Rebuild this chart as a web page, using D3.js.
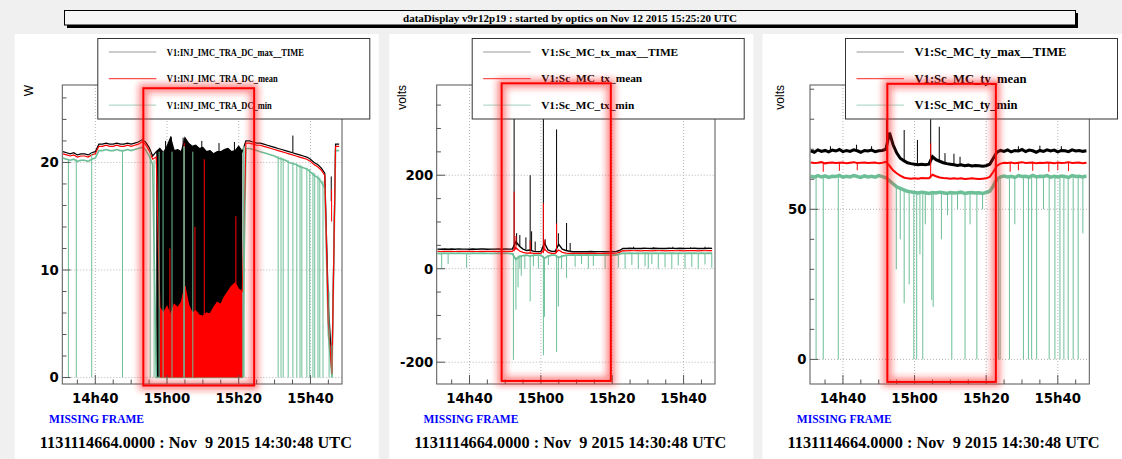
<!DOCTYPE html>
<meta charset="utf-8">
<style>
body { margin: 0; background: #f0f0f0; }
svg { display: block; }
.panel { fill: #fff; }
.frame { fill: none; stroke: #555; }
.tick { stroke: #555; }
.grid { stroke: #b5b5b5; stroke-dasharray: 1,2; }
.tick-label { font: bold 13.3px "DejaVu Sans", sans-serif; fill: #000; }
.axis-title { font: 12px "Liberation Sans", Arial, sans-serif; fill: #000; }
.legend-box { fill: #fff; stroke: #333; }
.legend-text { font-family: "Liberation Serif", serif; font-weight: bold; fill: #000; }
.missing { font: bold 11.5px "Liberation Serif", serif; fill: #0000ff; }
.stamp { font: bold 16.3px "Liberation Serif", serif; fill: #000; white-space: pre; }
.title-text { font: bold 10px "Liberation Serif", serif; fill: #000; }
.max { stroke: #000; fill: none; }
.mean { stroke: #ff0000; fill: none; }
.min { stroke: #6dbf98; fill: none; }
</style>
<body>
<svg class="js-chart"></svg>
<script src="https://cdn.jsdelivr.net/npm/d3@7"></script>
<script>
"use strict";

// ---- data (minute samples after 14:31 UTC, Nov 9 2015) ----
var sampleMinutes = d3.range(78);

var p1Names = ["V1:INJ_IMC_TRA_DC_max__TIME", "V1:INJ_IMC_TRA_DC_mean", "V1:INJ_IMC_TRA_DC_min"];
var p1Max = [21.0, 20.9, 20.8, 20.9, 20.7, 20.8, 20.8, 20.7, 20.9, 21.0,
    21.7, 21.7, 21.8, 21.7, 21.7, 21.8, 21.7, 21.7, 21.8, 21.7, 21.8, 21.9, 22.1, 21.9,
    21.4, 20.6,
    21.0, 21.3, 20.9, 21.5, 22.3, 21.1, 21.2, 21.0, 22.3, 21.8, 21.5, 21.6, 21.3, 21.4,
    21.0, 21.1, 20.8, 21.0, 21.0, 21.2, 21.3, 21.0, 21.1, 21.5, 21.0,
    22.0, 22.0, 21.9, 21.8, 21.8, 21.7, 21.6, 21.5, 21.4, 21.3, 21.2, 21.1, 21.0, 20.9,
    20.8, 20.7, 20.6, 20.5, 20.3, 20.0, 19.8, 19.5, 19.0,
    6.8, 1.0, 21.7, 21.7];
var p1Mean = [20.8, 20.7, 20.6, 20.7, 20.5, 20.6, 20.6, 20.5, 20.7, 20.8,
    21.5, 21.5, 21.6, 21.5, 21.5, 21.6, 21.5, 21.5, 21.6, 21.5, 21.6, 21.7, 21.9, 21.7,
    21.1, 20.3, 20.5,
    6.5, 6.0, 6.6, 5.8, 6.8, 6.5, 7.0, 8.5, 6.8, 6.0, 6.2, 5.8, 5.7, 6.0, 5.9, 6.5,
    7.0, 6.8, 7.5, 8.0, 8.5, 8.8, 8.2, 8.0,
    21.8, 21.8, 21.7, 21.6, 21.6, 21.5, 21.4, 21.3, 21.2, 21.1, 21.0, 20.9, 20.8, 20.7,
    20.6, 20.5, 20.4, 20.3, 20.1, 19.8, 19.6, 19.3, 18.8,
    5.0, 0.3, 21.5, 21.5];
var p1Min = [20.4, 20.3, 20.2, 20.3, 20.1, 20.2, 20.2, 20.1, 20.3, 20.4,
    21.1, 21.1, 21.2, 21.1, 21.1, 21.2, 21.1, 21.1, 21.2, 21.1, 21.2, 21.3, 21.4, 21.2,
    20.6, 19.8,
    0, 0, 0, 0, 0, 0, 0, 0, 0, 0, 0, 0, 0, 0, 0, 0, 0, 0, 0, 0, 0, 0, 0, 0, 0,
    21.3, 21.3, 21.2, 21.1, 21.0, 20.9, 20.8, 20.7, 20.6, 20.4, 20.3, 20.2, 20.0, 19.9,
    19.8, 19.6, 19.5, 19.4, 19.1, 18.8, 18.6, 18.2, 17.6,
    4.0, 0, 21.1, 21.1];
var p1Burst = [26, 50];       // minutes where max fills down to 0
var p1MeanBurst = [27, 50];   // minutes where mean fills down to 0
var p1MaxSpikes = [[22.4, 21.9, 22.6], [28.6, 21, 22.0], [30.2, 21, 22.4], [33.5, 21, 22.3],
    [38.7, 21, 22.0], [43.5, 21, 21.8], [47.8, 21, 21.9], [64.1, 20.9, 22.5], [74.8, 16.4, 18.7]];
var p1MeanSpikes = [[29.8, 0, 12.0], [33.8, 0, 21.8], [36.8, 0, 14.0], [39.4, 0, 20.3],
    [48.2, 0, 15.0], [74.9, 14.5, 17.5]];
var p1MinDrops = [[1.5, 20.3, 0], [3.7, 20.3, 0], [8.0, 20.9, 0], [16.6, 21.1, 0],
    [24.3, 21.0, 0], [25.4, 20.2, 0], [26.8, 21.0, 0], [27.9, 0, 21.0], [30.4, 0, 21.0],
    [33.7, 0, 21.5], [33.8, 0, 21.5], [36.2, 0, 21.0], [50.3, 21.5, 0], [50.5, 21.5, 0],
    [60.0, 20.6, 0], [60.8, 20.5, 0], [61.4, 20.4, 0], [62.8, 20.2, 0], [64.1, 20.0, 0],
    [65.2, 19.9, 0], [66.1, 19.8, 0], [66.6, 19.7, 0], [68.0, 19.5, 0], [68.8, 19.4, 0],
    [69.7, 19.1, 0], [70.2, 19.0, 0], [71.1, 18.8, 0], [71.6, 18.6, 0], [72.5, 18.3, 0],
    [74.2, 8.0, 0], [75.0, 3.0, 0]];

var p2Names = ["V1:Sc_MC_tx_max__TIME", "V1:Sc_MC_tx_mean", "V1:Sc_MC_tx_min"];
var p2Max = [42.0, 41.6, 42.3, 41.8, 42.1, 41.7, 42.4, 41.9, 42.0, 41.6, 42.2, 41.8, 42.1,
    42.3, 41.7, 42.0, 41.9, 42.2, 41.8, 42.1, 42.0,
    42.0, 58.0, 48.0, 42.0, 39.0, 40.0, 37.0, 36.5, 36.5, 55.0, 40.0, 37.0, 37.0, 52.0,
    42.0, 39.0, 37.5,
    36.4, 36.6, 36.3, 36.5, 36.4, 36.7, 36.3, 36.5, 36.6, 36.4, 36.5, 36.3, 36.6,
    39.0,
    43.5, 43.2, 43.8, 43.4, 43.6, 43.1, 43.7, 43.5, 43.3, 43.9, 43.4, 43.6, 43.2, 43.8,
    43.5, 43.4, 43.7, 43.3, 43.6, 43.5, 43.8, 43.2, 43.6, 43.4, 43.7, 43.5];
var p2Mean = [37.0, 36.8, 37.2, 36.9, 37.1, 36.8, 37.2, 37.0, 36.9, 37.1, 37.0, 36.8, 37.2,
    37.0, 36.9, 37.1, 37.0, 36.8, 37.1, 37.0, 36.9,
    37.0, 45.0, 38.0, 35.0, 33.5, 34.0, 33.0, 32.8, 32.8, 42.0, 35.0, 33.0, 33.0, 40.0,
    35.0, 33.5, 33.0,
    33.0, 32.8, 33.1, 32.9, 33.0, 33.2, 32.8, 33.0, 33.1, 32.9, 33.0, 32.8, 33.1,
    35.0,
    38.5, 38.3, 38.7, 38.4, 38.6, 38.2, 38.7, 38.5, 38.3, 38.8, 38.4, 38.6, 38.3, 38.7,
    38.5, 38.4, 38.6, 38.3, 38.6, 38.5, 38.7, 38.3, 38.6, 38.4, 38.6, 38.5];
var p2Min = [33.0, 32.6, 33.3, 32.8, 33.1, 32.7, 33.2, 32.9, 33.0, 32.6, 33.2, 32.8, 33.1,
    33.3, 32.7, 33.0, 32.9, 33.2, 32.8, 33.1, 33.0,
    32.0, 20.0, 26.0, 28.0, 29.0, 27.0, 29.0, 29.2, 29.0, 22.0, 27.0, 29.0, 29.0, 24.0,
    27.0, 28.5, 29.0,
    29.3, 29.0, 29.4, 29.1, 29.3, 29.0, 29.4, 29.2, 29.1, 29.3, 29.0, 29.2, 29.3,
    31.0,
    33.2, 32.9, 33.4, 33.0, 33.3, 32.8, 33.2, 33.1, 32.9, 33.4, 33.0, 33.2, 32.9, 33.3,
    33.1, 33.0, 33.3, 32.9, 33.2, 33.1, 33.3, 32.9, 33.2, 33.0, 33.3, 33.1];
var p2MaxSpikes = [[21.5, 42, 390], [22.2, 50, 76], [23.1, 48, 72], [24.8, 42, 67],
    [26.0, 38, 200], [26.4, 38, 80], [27.4, 37, 58], [29.7, 37, 390], [30.2, 50, 63],
    [33.4, 37, 298], [33.9, 50, 76], [36.2, 39, 98], [37.2, 37, 55],
    [55.0, 43.5, 47], [60.5, 43.5, 46], [66.0, 43.5, 47], [71.0, 43.5, 46], [75.0, 43.5, 47]];
var p2MeanSpikes = [[21.5, 37, 165], [22.0, 40, 70], [26.0, 33, 60], [29.7, 33, 140],
    [30.1, 38, 62], [33.4, 33, 97]];
var p2MinDrops = [[21.3, 33, -195], [22.0, 25, -88], [22.6, 28, -40], [23.5, 28, -15],
    [24.5, 28, 0], [26.0, 28, -70], [29.7, 28, -185], [30.0, 25, -103], [33.4, 28, -178],
    [33.9, 25, -81], [36.2, 28, -20],
    [1.2, 33, 0], [3.0, 33, 10], [8.2, 33, 2], [23.1, 29, 0], [26.9, 29, 5], [28.3, 29, 0],
    [31.1, 29, 8], [34.8, 29, 0], [38.6, 29, 4], [40.4, 29, 10], [42.3, 29, 0], [43.7, 29, 6],
    [47.0, 29, 0], [50.7, 30, 2], [52.6, 33, 0], [54.5, 33, 8], [56.3, 33, 0], [58.2, 33, 5],
    [59.1, 33, 0], [60.1, 33, 10], [61.9, 33, 0], [63.8, 33, 3], [65.7, 33, 0], [67.5, 33, 7],
    [69.4, 33, 0], [71.3, 33, 4], [73.1, 33, 0], [75.0, 33, 9], [76.9, 33, 2]];

var p3Names = ["V1:Sc_MC_ty_max__TIME", "V1:Sc_MC_ty_mean", "V1:Sc_MC_ty_min"];
var p3Max = [69.5, 69.0, 69.8, 69.3, 69.6, 69.1, 69.7, 69.4, 69.9, 69.2, 69.6, 69.3, 69.8,
    69.5, 69.0, 69.6, 69.4, 69.7, 69.2, 69.5, 69.6,
    70.0, 75.5, 71.5, 68.8, 67.0, 66.2, 65.5, 65.2, 65.0, 64.8, 65.0, 64.8, 65.0, 67.5,
    66.5, 66.0, 65.5, 65.2, 65.0, 64.8, 64.6, 64.8, 64.5, 64.7, 64.4, 64.6, 64.5, 64.3,
    64.5, 65.0, 67.0, 69.0, 69.6,
    69.3, 69.8, 69.1, 69.6, 69.4, 69.9, 69.2, 69.7, 69.5, 69.0, 69.6, 69.3, 69.8, 69.4,
    69.7, 69.1, 69.6, 69.5, 69.2, 69.8, 69.4, 69.6, 69.3, 69.5];
var p3Mean = [65.6, 65.4, 65.5, 65.7, 65.3, 65.5, 65.6, 65.4, 65.5, 65.6, 65.3, 65.5, 65.7,
    65.4, 65.5, 65.6, 65.4, 65.5, 65.6, 65.3, 65.5,
    65.8, 64.5, 63.0, 62.0, 61.2, 60.6, 60.3, 60.2, 60.3, 60.2, 60.4, 60.3, 60.3, 61.5,
    61.0, 60.6, 60.4, 60.3, 60.2, 60.3, 60.2, 60.3, 60.1, 60.2, 60.3, 60.2, 60.1, 60.2,
    60.3, 60.8, 62.5, 64.5, 65.2,
    65.5, 65.4, 65.6, 65.3, 65.5, 65.7, 65.4, 65.5, 65.6, 65.3, 65.5, 65.4, 65.6, 65.5,
    65.3, 65.6, 65.4, 65.5, 65.7, 65.4, 65.5, 65.6, 65.3, 65.5];
var p3Min = [61.0, 60.7, 61.2, 60.8, 61.1, 60.6, 61.0, 60.9, 61.3, 60.7, 61.0, 60.8, 61.2,
    60.9, 60.6, 61.1, 60.8, 61.0, 60.7, 61.2, 60.9,
    60.5, 59.5, 58.5, 57.5, 57.0, 56.5, 56.0, 55.8, 55.6, 55.4, 55.7, 55.5, 55.3, 55.6,
    55.4, 55.7, 55.5, 55.3, 55.6, 55.4, 55.5, 55.7, 55.3, 55.5, 55.6, 55.4, 55.5, 55.3,
    55.6, 56.0, 57.8, 60.0, 60.8,
    61.1, 60.8, 61.0, 60.6, 61.2, 60.9, 61.0, 60.7, 61.3, 60.8, 61.0, 60.9, 61.2, 60.7,
    61.0, 60.8, 61.1, 60.9, 60.6, 61.2, 60.9, 61.0, 60.8, 61.1];
var p3MaxSpikes = [[21.2, 70, 79.8], [26.1, 66, 76.4], [29.8, 65, 73.1], [33.5, 65, 80],
    [35.9, 66, 77.5], [37.5, 65, 68.7], [40.0, 65, 68.5], [41.7, 65, 67.5],
    [5.5, 69.5, 71], [12.8, 69.5, 71.5], [17.0, 69.5, 71], [58.0, 69.5, 71],
    [64.0, 69.5, 71.2], [70.0, 69.5, 71]];
var p3MeanSpikes = [[33.5, 60.3, 72], [21.3, 65.5, 70], [3.5, 65.5, 62.5], [8.0, 65.5, 62.8],
    [13.0, 65.5, 63], [55.7, 65.5, 62.5], [58.0, 65.5, 63], [62.0, 65.5, 62.8],
    [66.5, 65.5, 62.5], [69.0, 65.5, 63], [72.0, 65.5, 62.7]];
var p3MinDrops = [[1.5, 61, 0], [3.5, 61, 0], [7.7, 61, 0], [26.1, 56.5, 18.7], [28.8, 55.8, 0],
    [29.6, 55.5, 0], [31.3, 55.5, 0], [33.8, 55.5, 19.8], [34.2, 55.5, 17.5], [39.4, 55.5, 0],
    [43.1, 55.5, 0], [46.4, 55.5, 0], [52.4, 60, 0], [52.9, 60.8, 0], [55.5, 61, 0],
    [59.4, 61, 0], [60.8, 61, 0], [61.7, 61, 0], [63.1, 61, 0], [66.6, 61, 0], [68.2, 61, 0],
    [69.6, 61, 0], [70.7, 61, 0], [71.9, 61, 0], [73.3, 61, 0], [74.7, 61, 0],
    [23.9, 58, 30], [25.0, 57, 40], [27.5, 56, 25], [30.5, 55.5, 35], [32.0, 55.5, 45],
    [36.5, 55.5, 40], [38.2, 55.5, 48], [41.0, 55.5, 50], [44.5, 55.5, 45], [48.0, 55.5, 50],
    [57.0, 61, 45], [65.0, 61, 50], [76.0, 61, 42]];

// highlighted windows: [from minute, to minute, low value, high value]
var p1Highlight = [22.4, 53.3, -0.74, 26.9];
var p2Highlight = [18.0, 48.6, -240, 396.6];
var p3Highlight = [21.4, 51.7, -7.5, 91.8];

var titleText = "dataDisplay v9r12p19 : started by optics on Nov 12 2015 15:25:20 UTC";
var stampText = "1131114664.0000 : Nov  9 2015 14:30:48 UTC";
var missingText = "MISSING FRAME";

// ---- layout ----
var width = 1122, height = 459,
    frameTop = 85, frameBottom = 384,
    startTime = new Date(Date.UTC(2015, 10, 9, 14, 30, 48)),
    endTime = new Date(Date.UTC(2015, 10, 9, 15, 48, 48)),
    firstSample = Date.UTC(2015, 10, 9, 14, 31, 0);

function sampleTime(m) { return new Date(firstSample + m * 60000); }

var panels = [
    { left: 62.3, right: 342, yDomain: [-0.6, 27.2], major: 10, minor: 2, unit: "W", titleDx: -29,
      names: p1Names, max: p1Max, mean: p1Mean, min: p1Min, burst: p1Burst, meanBurst: p1MeanBurst,
      maxSpikes: p1MaxSpikes, meanSpikes: p1MeanSpikes, minDrops: p1MinDrops, highlight: p1Highlight,
      legendFont: 11, legendWidths: [137, 111, 105], widths: [1.2, 1.2, 1.6] },
    { left: 436.7, right: 715, yDomain: [-246.6, 393], major: 200, minor: 50, unit: "volts", titleDx: -31,
      names: p2Names, max: p2Max, mean: p2Mean, min: p2Min,
      maxSpikes: p2MaxSpikes, meanSpikes: p2MeanSpikes, minDrops: p2MinDrops, highlight: p2Highlight,
      legendFont: 11, legendWidths: [137, 101, 93], widths: [1.4, 1.2, 1.8] },
    { left: 810, right: 1089.3, yDomain: [-8.2, 91.4], major: 50, minor: 10, unit: "volts", titleDx: -26.5,
      names: p3Names, max: p3Max, mean: p3Mean, min: p3Min,
      maxSpikes: p3MaxSpikes, meanSpikes: p3MeanSpikes, minDrops: p3MinDrops, highlight: p3Highlight,
      legendFont: 12.5, legendWidths: [152, 112, 103], widths: [3, 2, 3.5] }
];

var svg = d3.select(".js-chart")
    .attr("width", width)
    .attr("height", height);

var defs = svg.append("defs");
defs.append("filter")
    .attr("id", "glow")
    .attr("x", "-20%").attr("y", "-20%").attr("width", "140%").attr("height", "140%")
    .append("feGaussianBlur")
    .attr("stdDeviation", 3.2);

// title bar
svg.append("rect").attr("x", 67).attr("y", 13).attr("width", 1011).attr("height", 15).attr("fill", "#000");
svg.append("rect").attr("x", 64.5).attr("y", 10.5).attr("width", 1011).attr("height", 14.5)
    .attr("fill", "#f6f6f6").attr("stroke", "#000");
svg.append("text").attr("class", "title-text")
    .attr("x", 570).attr("y", 21.5)
    .attr("text-anchor", "middle")
    .attr("textLength", 334).attr("lengthAdjust", "spacingAndGlyphs")
    .text(titleText);

panels.forEach(function(p, pi) {
    var x = d3.scaleUtc().domain([startTime, endTime]).range([p.left, p.right]);
    var y = d3.scaleLinear().domain(p.yDomain).range([frameBottom, frameTop]);
    var g = svg.append("g");

    g.append("rect").attr("class", "panel")
        .attr("x", p.left - 47.5).attr("y", 34)
        .attr("width", 364).attr("height", height - 34);

    var clipId = "clip" + pi;
    defs.append("clipPath").attr("id", clipId)
        .append("rect")
        .attr("x", p.left).attr("y", frameTop)
        .attr("width", p.right - p.left).attr("height", frameBottom - frameTop);

    // grid
    var majorTimes = x.ticks(d3.utcMinute.every(20));
    var minorTimes = x.ticks(d3.utcMinute.every(5));
    var majorVals = d3.range(Math.ceil(p.yDomain[0] / p.major) * p.major, p.yDomain[1], p.major);
    var minorVals = d3.range(Math.ceil(p.yDomain[0] / p.minor) * p.minor, p.yDomain[1], p.minor);

    g.selectAll(".gx").data(majorTimes).join("line")
        .attr("class", "grid")
        .attr("x1", x).attr("x2", x)
        .attr("y1", frameTop).attr("y2", frameBottom);
    g.selectAll(".gy").data(majorVals).join("line")
        .attr("class", "grid")
        .attr("x1", p.left).attr("x2", p.right)
        .attr("y1", y).attr("y2", y);

    var plot = g.append("g").attr("clip-path", "url(#" + clipId + ")");

    function pts(values) {
        return sampleMinutes.map(function(m, i) { return [m, values[i]]; });
    }
    var line = d3.line()
        .defined(function(d) { return d[1] != null; })
        .x(function(d) { return x(sampleTime(d[0])); })
        .y(function(d) { return y(d[1]); });
    var area = d3.area()
        .x(function(d) { return x(sampleTime(d[0])); })
        .y0(y(0))
        .y1(function(d) { return y(d[1]); });

    function spikes(list, cls, w) {
        plot.append("g").selectAll("line").data(list).join("line")
            .attr("class", cls)
            .attr("stroke-width", w)
            .attr("x1", function(d) { return x(sampleTime(d[0])); })
            .attr("x2", function(d) { return x(sampleTime(d[0])); })
            .attr("y1", function(d) { return y(d[1]); })
            .attr("y2", function(d) { return y(d[2]); });
    }
    function inRange(r) {
        return function(d) { return d[0] >= r[0] && d[0] <= r[1]; };
    }

    // max
    if (p.burst) {
        plot.append("path").datum(pts(p.max).filter(inRange(p.burst)))
            .attr("fill", "#000").attr("d", area);
    }
    plot.append("path").datum(pts(p.max)).attr("class", "max")
        .attr("stroke-width", p.widths[0]).attr("d", line);
    spikes(p.maxSpikes, "max", 1);

    // min (under the mean)
    plot.append("path").datum(pts(p.min)).attr("class", "min")
        .attr("stroke-width", p.widths[2]).attr("d", line);

    // mean
    if (p.meanBurst) {
        plot.append("path").datum(pts(p.mean).filter(inRange(p.meanBurst)))
            .attr("fill", "#ff0000").attr("d", area);
    }
    plot.append("path").datum(pts(p.mean)).attr("class", "mean")
        .attr("stroke-width", p.widths[1]).attr("d", line);
    spikes(p.meanSpikes, "mean", 1);

    // min excursions on top
    spikes(p.minDrops, "min", 1);

    // frame and ticks
    g.append("rect").attr("class", "frame")
        .attr("x", p.left).attr("y", frameTop)
        .attr("width", p.right - p.left).attr("height", frameBottom - frameTop);

    g.selectAll(".tx").data(minorTimes).join("line")
        .attr("class", "tick")
        .attr("x1", x).attr("x2", x)
        .attr("y1", frameBottom)
        .attr("y2", function(d) { return frameBottom - (d.getUTCMinutes() % 20 === 0 ? 9 : 4.5); });
    g.selectAll(".ty").data(minorVals).join("line")
        .attr("class", "tick")
        .attr("y1", y).attr("y2", y)
        .attr("x1", p.left)
        .attr("x2", function(d) { return p.left + (d % p.major === 0 ? 8.4 : 4.2); });

    var fmt = d3.utcFormat("%Hh%M");
    g.selectAll(".lx").data(majorTimes).join("text")
        .attr("class", "tick-label")
        .attr("x", x).attr("y", 403)
        .attr("text-anchor", "middle")
        .text(fmt);
    g.selectAll(".ly").data(majorVals).join("text")
        .attr("class", "tick-label")
        .attr("x", p.left - 3.5).attr("y", y)
        .attr("dy", "0.36em")
        .attr("text-anchor", "end")
        .text(function(d) { return d; });

    g.append("text").attr("class", "axis-title")
        .attr("transform", "translate(" + (p.left + p.titleDx) + "," + 85 + ") rotate(-90)")
        .attr("text-anchor", "end")
        .text(p.unit);

    // legend
    var lg = g.append("g").attr("transform", "translate(" + (p.left + 35.5) + ",38.5)");
    lg.append("rect").attr("class", "legend-box").attr("width", 272).attr("height", 80.5);
    var legendColors = ["#9a9a9a", "#ff5050", "#b3dccc"];
    p.names.forEach(function(name, i) {
        var cy = 13.5 + i * 26.6;
        lg.append("line")
            .attr("x1", 11).attr("x2", 58.5)
            .attr("y1", cy).attr("y2", cy)
            .attr("stroke", legendColors[i]).attr("stroke-width", 1.2);
        lg.append("text").attr("class", "legend-text")
            .attr("x", 69).attr("y", cy + p.legendFont * 0.34)
            .attr("font-size", p.legendFont)
            .attr("textLength", p.legendWidths[i]).attr("lengthAdjust", "spacingAndGlyphs")
            .text(name);
    });

    // highlight window with glow
    var h = p.highlight;
    var hx0 = x(sampleTime(h[0])), hx1 = x(sampleTime(h[1])),
        hy0 = y(h[3]), hy1 = y(h[2]);
    g.append("rect")
        .attr("x", hx0).attr("y", hy0).attr("width", hx1 - hx0).attr("height", hy1 - hy0)
        .attr("fill", "none").attr("stroke", "#ff2020").attr("stroke-width", 9)
        .attr("stroke-opacity", 0.5).attr("filter", "url(#glow)");
    g.append("rect")
        .attr("x", hx0).attr("y", hy0).attr("width", hx1 - hx0).attr("height", hy1 - hy0)
        .attr("fill", "none").attr("stroke", "#ff0000").attr("stroke-width", 2);

    // footer texts
    g.append("text").attr("class", "missing")
        .attr("x", p.left - 13.2).attr("y", 422.7)
        .text(missingText);
    g.append("text").attr("class", "stamp")
        .attr("x", p.left + 133.6).attr("y", 447.5)
        .attr("text-anchor", "middle")
        .attr("xml:space", "preserve")
        .text(stampText);
});
</script>
</body>
